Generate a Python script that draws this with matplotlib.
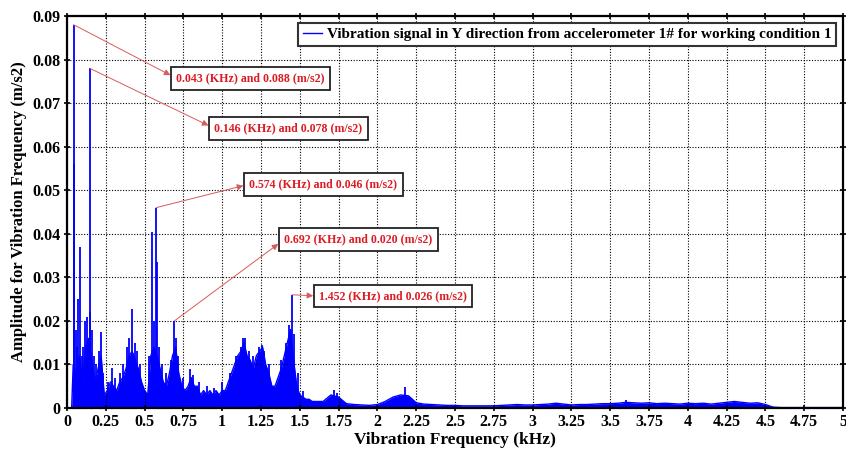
import numpy as np
import matplotlib
matplotlib.use("Agg")
import matplotlib.pyplot as plt
from matplotlib.ticker import FuncFormatter

plt.rcParams['font.family'] = ['Liberation Serif', 'DejaVu Serif']
plt.rcParams['font.weight'] = 'bold'

# broadband envelope of the spectrum (kHz, m/s2)
env_f_low = [0.00, 0.02, 0.03, 0.04, 0.06, 0.08, 0.10, 0.12, 0.14, 0.16, 0.18, 0.20,
             0.22, 0.24, 0.26, 0.28, 0.30, 0.32, 0.34, 0.36, 0.38, 0.40, 0.42, 0.44,
             0.46, 0.48, 0.50, 0.52, 0.54, 0.56, 0.58, 0.60, 0.62, 0.64, 0.66, 0.68,
             0.70, 0.72, 0.74, 0.76, 0.78, 0.80, 0.82, 0.84, 0.86, 0.88, 0.90, 0.92,
             0.94, 0.96, 0.98, 1.00, 1.02, 1.04, 1.06, 1.08, 1.10, 1.12, 1.14, 1.16,
             1.18, 1.20, 1.22, 1.24, 1.26, 1.28, 1.30, 1.32, 1.34, 1.36, 1.38, 1.40,
             1.42, 1.44, 1.46, 1.48, 1.50, 1.52, 1.54, 1.56, 1.58, 1.60]
env_a_low = [0.0, 0.0, 0.0, 0.010, 0.008, 0.012, 0.006, 0.014, 0.016, 0.011, 0.006, 0.009,
             0.012, 0.003, 0.004, 0.006, 0.005, 0.004, 0.006, 0.007, 0.009, 0.012, 0.013, 0.011,
             0.009, 0.006, 0.004, 0.003, 0.012, 0.014, 0.012, 0.009, 0.006, 0.005, 0.008, 0.012,
             0.014, 0.008, 0.005, 0.004, 0.005, 0.007, 0.005, 0.005, 0.003, 0.004, 0.003, 0.004,
             0.003, 0.004, 0.003, 0.004, 0.004, 0.006, 0.008, 0.010, 0.012, 0.013, 0.015, 0.012,
             0.011, 0.009, 0.012, 0.013, 0.014, 0.010, 0.008, 0.005, 0.005, 0.007, 0.009, 0.012,
             0.015, 0.018, 0.011, 0.005, 0.003, 0.0025, 0.002, 0.002, 0.0015, 0.0015]

env_f_high = [1.65, 1.70, 1.75, 1.80, 1.85, 1.90, 1.95, 2.00, 2.05, 2.10, 2.15, 2.20,
              2.25, 2.30, 2.35, 2.40, 2.45, 2.50, 2.55, 2.60, 2.65, 2.70, 2.75, 2.80,
              2.85, 2.90, 2.95, 3.00, 3.05, 3.10, 3.15, 3.20, 3.25, 3.30, 3.35, 3.40,
              3.45, 3.50, 3.55, 3.60, 3.65, 3.70, 3.75, 3.80, 3.85, 3.90, 3.95, 4.00,
              4.05, 4.10, 4.15, 4.20, 4.25, 4.30, 4.35, 4.40, 4.45, 4.50, 4.55, 4.60,
              4.70, 4.80, 4.90, 5.00]
env_a_high = [0.0015, 0.003, 0.0025, 0.001, 0.0008, 0.0007, 0.0006, 0.0008, 0.0015, 0.0025, 0.003, 0.0028,
              0.0012, 0.0009, 0.0008, 0.0007, 0.0006, 0.0006, 0.0005, 0.0005, 0.0005, 0.0005, 0.0005, 0.0006,
              0.0007, 0.0008, 0.0007, 0.0007, 0.0008, 0.0009, 0.0011, 0.0009, 0.0007, 0.0008, 0.0008, 0.0009,
              0.0010, 0.0010, 0.0011, 0.0013, 0.0012, 0.0011, 0.0012, 0.0010, 0.0011, 0.0010, 0.0009, 0.0011,
              0.0010, 0.0011, 0.0009, 0.0011, 0.0013, 0.0015, 0.0013, 0.0011, 0.0012, 0.0008, 0.0002, 0.0001,
              0.0001, 0.0001, 0.0001, 0.0001]

# narrow spectral lines on top of the envelope
spike_f = [0.043, 0.048, 0.056, 0.065, 0.073, 0.084, 0.095, 0.105, 0.118, 0.127, 0.146, 0.150,
           0.160, 0.172, 0.190, 0.205, 0.217, 0.230, 0.262, 0.288, 0.310, 0.340, 0.360, 0.385,
           0.400, 0.417, 0.435, 0.450, 0.470, 0.530, 0.545, 0.558, 0.574, 0.580, 0.595, 0.615,
           0.640, 0.670, 0.692, 0.700, 0.715, 0.750, 0.790, 0.810, 0.850, 0.900, 0.950, 1.000,
           1.050, 1.090, 1.120, 1.135, 1.147, 1.170, 1.200, 1.235, 1.254, 1.270, 1.300, 1.380,
           1.410, 1.430, 1.452, 1.465, 1.490, 1.520, 1.720, 1.740, 2.180, 3.600, 4.300]
spike_a = [0.088, 0.056, 0.018, 0.014, 0.025, 0.037, 0.012, 0.014, 0.020, 0.021, 0.078, 0.022,
           0.018, 0.012, 0.010, 0.013, 0.0175, 0.008, 0.006, 0.0091, 0.007, 0.008, 0.010, 0.014,
           0.016, 0.0228, 0.015, 0.013, 0.010, 0.012, 0.0404, 0.020, 0.046, 0.0336, 0.014, 0.010,
           0.008, 0.011, 0.020, 0.016, 0.012, 0.007, 0.009, 0.0076, 0.006, 0.005, 0.0045, 0.006,
           0.008, 0.012, 0.014, 0.016, 0.016, 0.013, 0.012, 0.014, 0.0144, 0.013, 0.010, 0.011,
           0.015, 0.019, 0.026, 0.017, 0.008, 0.004, 0.0042, 0.0035, 0.0049, 0.0018, 0.0017]

# labelled peaks
peak_f = [0.043, 0.146, 0.574, 0.692, 1.452]
peak_a = [0.088, 0.078, 0.046, 0.020, 0.026]
box_x = [0.705, 0.95, 1.175, 1.40, 1.625]
box_y = [0.0757, 0.0642, 0.0514, 0.0387, 0.0257]

env_f = env_f_low + env_f_high
env_a = env_a_low + env_a_high

fig = plt.figure(figsize=(8.46, 4.5), dpi=100)
ax = fig.add_axes([0.0792, 0.0933, 0.9173, 0.8711])

blue = '#0000ff'
ax.fill_between(env_f, env_a, 0, color=blue, lw=0)
ax.plot(env_f, env_a, color=blue, lw=1.0,
        label='Vibration signal in Y direction from accelerometer 1# for working condition 1')
ax.vlines(spike_f, 0, spike_a, color=blue, lw=1.3)

for f, a, bx, by in zip(peak_f, peak_a, box_x, box_y):
    ax.annotate(f"{f:.3f} (KHz) and {a:.3f} (m/s2)", xy=(f, a), xytext=(bx, by),
                ha='left', va='center', fontsize=8.6, color='#dc1c24', fontweight='bold',
                bbox=dict(boxstyle='square,pad=0.45', fc='white', ec='#222222', lw=1.3),
                arrowprops=dict(arrowstyle='<|-', color='#d85a5a', lw=0.7,
                                mutation_scale=9, shrinkA=0, shrinkB=0, relpos=(0, 0.5)))

ax.set_xlim(0, 5)
ax.set_ylim(0, 0.09)
ax.set_xticks(np.arange(0, 5.01, 0.25))
ax.set_yticks(np.arange(0, 0.0901, 0.01))
ax.xaxis.set_major_formatter(FuncFormatter(lambda v, p: f"{v:g}"))
ax.yaxis.set_major_formatter(FuncFormatter(lambda v, p: "0" if abs(v) < 1e-9 else f"{v:.2f}"))
ax.tick_params(direction='inout', length=5, width=1.2, labelsize=11.5, top=True, right=True, pad=2)
for lab in ax.get_xticklabels() + ax.get_yticklabels():
    lab.set_fontweight('bold')

ax.grid(True, color='black', linestyle=(0, (1, 1.5)), lw=0.8)
for s in ax.spines.values():
    s.set_linewidth(1.6)

ax.set_xlabel('Vibration Frequency (kHz)', fontsize=12.5, fontweight='bold', labelpad=1)
ax.set_ylabel('Amplitude for Vibration Frequency (m/s2)', fontsize=12, fontweight='bold', labelpad=4)

leg = ax.legend(loc='upper right', handlelength=1.3, handletextpad=0.3,
                fancybox=False, framealpha=1, edgecolor='#333333', borderaxespad=0.45,
                borderpad=0.3, prop={'weight': 'bold', 'size': 11})
leg.get_frame().set_linewidth(1.5)

fig.savefig('out.png', dpi=100)
